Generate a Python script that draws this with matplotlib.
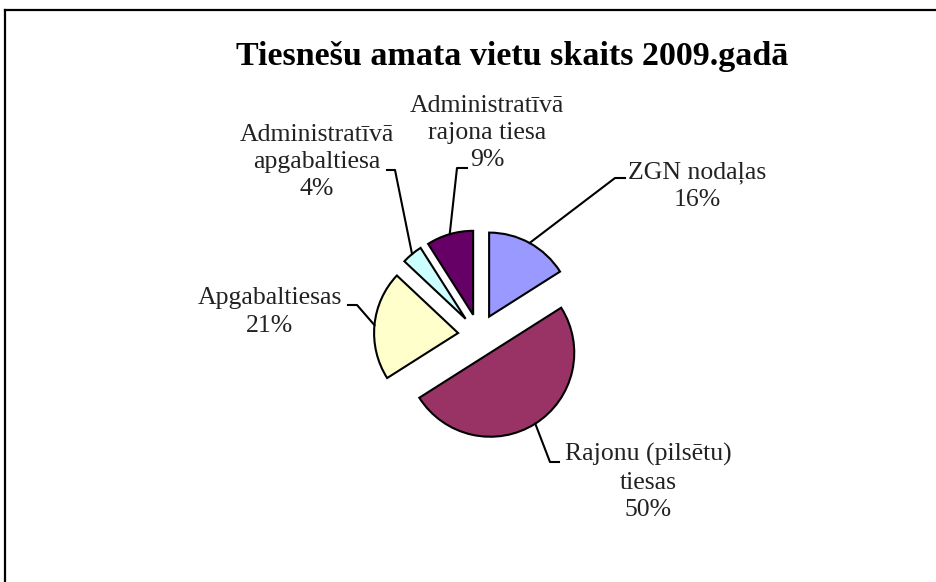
import numpy as np
import matplotlib
matplotlib.use('Agg')
import matplotlib.pyplot as plt
from matplotlib.lines import Line2D

plt.rcParams['font.family'] = ['Liberation Serif', 'DejaVu Serif']

title = 'Tiesnešu amata vietu skaits 2009.gadā'
labels = ['ZGN nodaļas', 'Rajonu (pilsētu)\ntiesas', 'Apgabaltiesas',
          'Administratīvā\napgabaltiesa', 'Administratīvā\nrajona tiesa']
shares = [16, 50, 21, 4, 9]
colors = ['#9999FF', '#993366', '#FFFFCC', '#CCFFFF', '#660066']

W, H = 937, 582
# label block centre, leader elbow and leader end (pixels, y down)
text_pos = [(697, 186), (648, 482), (270, 312), (317, 162), (487, 133)]
elbows = [(615, 178), (550, 462), (357, 305), (395, 170), (457, 168)]
ends = [(625, 178), (559, 462), (348, 305), (387, 170), (467, 168)]

fig = plt.figure(figsize=(W / 100, H / 100), dpi=100)
ax = fig.add_axes([0, 0, 1, 1])

R = 84
explode = [0.25 * R] * len(shares)
wedges, _ = ax.pie(shares, colors=colors, startangle=90, counterclock=False,
                   radius=R, center=(479, H - 335), explode=explode,
                   wedgeprops=dict(edgecolor='black', linewidth=1.5))
ax.set_xlim(0, W)
ax.set_ylim(0, H)
ax.set_aspect('equal')
ax.axis('off')

for w, lab, val, tp, el, en in zip(wedges, labels, shares, text_pos, elbows, ends):
    mid = np.deg2rad((w.theta1 + w.theta2) / 2)
    ax_ = w.center[0] + w.r * np.cos(mid)
    ay_ = w.center[1] + w.r * np.sin(mid)
    ax.plot([ax_, el[0], en[0]], [ay_, H - el[1], H - en[1]], color='black', lw=1.5)
    ax.text(tp[0], H - tp[1], lab + '\n' + str(val) + '%', ha='center', va='center',
            fontsize=18.5, linespacing=1.3, color='#222222')

fig.text(512 / W, 1 - 57 / H, title, ha='center', va='center',
         fontsize=24.5, fontweight='bold')

# frame lines (top and left)
fig.add_artist(Line2D([5 / W, 1], [1 - 10 / H, 1 - 10 / H], color='black', lw=1.6))
fig.add_artist(Line2D([5 / W, 5 / W], [0, 1 - 10 / H], color='black', lw=1.6))

fig.savefig('out.png', dpi=100)
